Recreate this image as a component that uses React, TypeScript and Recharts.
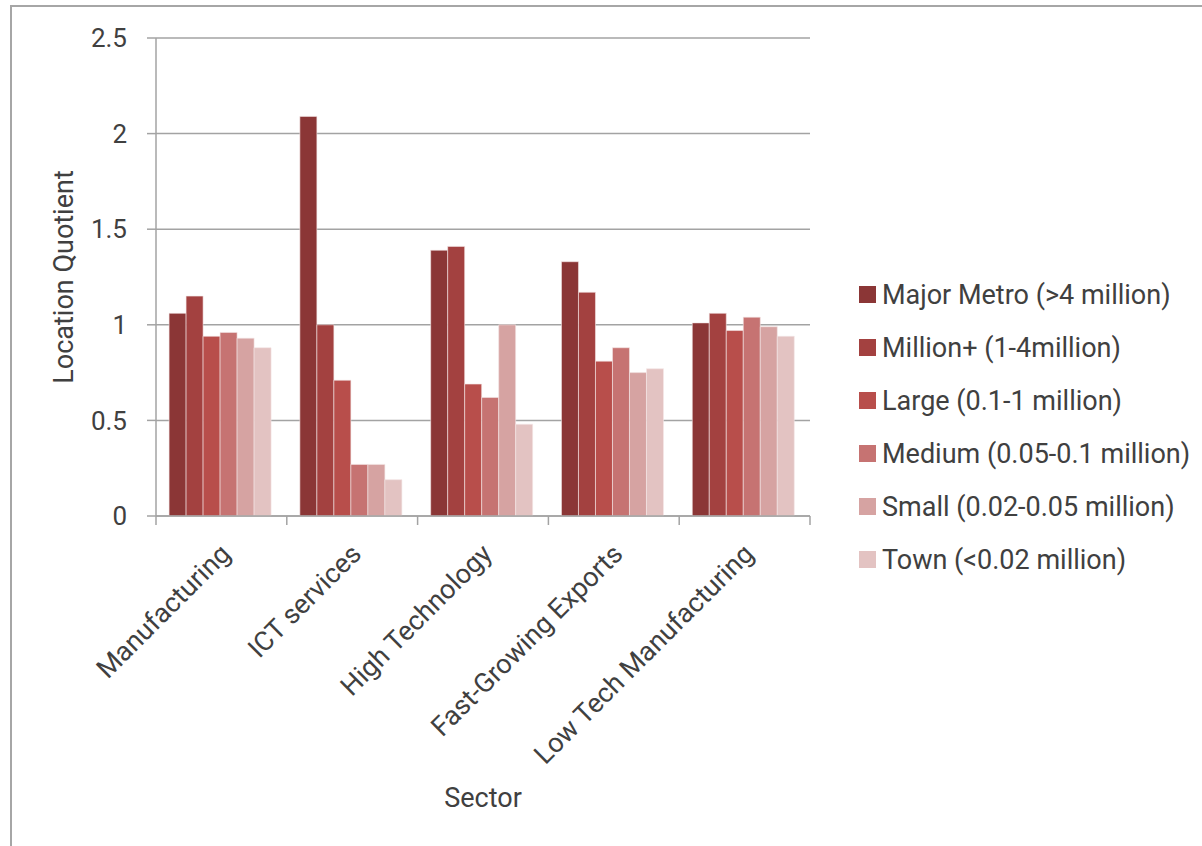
import React from 'react';
import { BarChart, Bar, XAxis, YAxis, CartesianGrid } from 'recharts';

const sectors = ['Manufacturing', 'ICT services', 'High Technology', 'Fast-Growing Exports', 'Low Tech Manufacturing'];
const majorMetro = [1.06, 2.09, 1.39, 1.33, 1.01];
const millionPlus = [1.15, 1.0, 1.41, 1.17, 1.06];
const large = [0.94, 0.71, 0.69, 0.81, 0.97];
const medium = [0.96, 0.27, 0.62, 0.88, 1.04];
const small = [0.93, 0.27, 1.0, 0.75, 0.99];
const town = [0.88, 0.19, 0.48, 0.77, 0.94];

const seriesNames = [
  'Major Metro (>4 million)',
  'Million+ (1-4million)',
  'Large (0.1-1 million)',
  'Medium (0.05-0.1 million)',
  'Small (0.02-0.05 million)',
  'Town (<0.02 million)',
];
const seriesKeys = ['majorMetro', 'millionPlus', 'large', 'medium', 'small', 'town'];
const seriesColors = ['#8B3636', '#A34140', '#B84E4B', '#C67372', '#D6A3A2', '#E3C3C2'];
const yTicks = [0, 0.5, 1, 1.5, 2, 2.5];

const data = sectors.map((sector, i) => ({
  sector,
  majorMetro: majorMetro[i],
  millionPlus: millionPlus[i],
  large: large[i],
  medium: medium[i],
  small: small[i],
  town: town[i],
}));

const FONT = 'Roboto, "Noto Sans", sans-serif';
const FS = 27;
const FS_Y = 26;
const TEXT = '#404040';
const GRID = '#a3a3a3';
const X_TICK_MARGIN = 26;
const X_LABEL_DX = -3;
const PLOT_W = 654;

function SectorTick(props: any) {
  const { x, y, payload, index, visibleTicksCount, width } = props;
  const w = typeof width === 'number' && width > 0 ? width : PLOT_W;
  const band = w / visibleTicksCount;
  const axisY = y - X_TICK_MARGIN;
  const tx = x + X_LABEL_DX;
  return (
    <g>
      <line x1={x - band / 2} x2={x - band / 2} y1={axisY} y2={axisY + 9} stroke={GRID} strokeWidth={1.5} />
      {index === visibleTicksCount - 1 && (
        <line x1={x + band / 2} x2={x + band / 2} y1={axisY} y2={axisY + 9} stroke={GRID} strokeWidth={1.5} />
      )}
      <text
        x={tx}
        y={y}
        dy="0.71em"
        transform={`rotate(-45 ${tx} ${y})`}
        textAnchor="end"
        fill={TEXT}
        fontSize={FS}
        fontFamily={FONT}
      >
        {payload.value}
      </text>
    </g>
  );
}

function HtmlLegend() {
  return (
    <div style={{ position: 'absolute', left: 859, top: 268, fontFamily: FONT, color: TEXT, fontSize: FS }}>
      {seriesNames.map((n, i) => (
        <div key={n} style={{ display: 'flex', alignItems: 'center', height: 53 }}>
          <div style={{ width: 17, height: 17, background: seriesColors[i], marginRight: 6, flex: 'none' }} />
          <span style={{ whiteSpace: 'nowrap' }}>{n}</span>
        </div>
      ))}
    </div>
  );
}

export default function App() {
  return (
    <div style={{ position: 'absolute', left: 0, top: 0, width: 1202, height: 846, overflow: 'hidden', background: '#fff' }}>
      <div
        style={{
          position: 'absolute',
          left: 10,
          top: 5,
          width: 1400,
          height: 1000,
          borderLeft: '2px solid #a6a6a6',
          borderTop: '2px solid #a6a6a6',
        }}
      />
      <div style={{ position: 'absolute', left: 0, top: 0 }}>
        <BarChart
          width={1202}
          height={846}
          data={data}
          margin={{ top: 38, right: 392, bottom: 0, left: 0 }}
          barCategoryGap="10%"
          barGap={0}
        >
          <CartesianGrid vertical={false} stroke={GRID} strokeWidth={1.5} />
          <XAxis
            dataKey="sector"
            height={330}
            interval={0}
            tickLine={false}
            tickSize={0}
            tickMargin={X_TICK_MARGIN}
            axisLine={{ stroke: GRID, strokeWidth: 1.5 }}
            tick={<SectorTick />}
            label={{ value: 'Sector', position: 'insideBottom', offset: 39, fill: TEXT, fontSize: FS, fontFamily: FONT }}
          />
          <YAxis
            width={156}
            domain={[0, 2.5]}
            ticks={yTicks}
            interval={0}
            tickSize={9}
            tickMargin={20}
            axisLine={{ stroke: GRID, strokeWidth: 1.5 }}
            tickLine={{ stroke: GRID, strokeWidth: 1.5 }}
            tick={{ fill: TEXT, fontSize: FS_Y, fontFamily: FONT }}
            label={{ value: 'Location Quotient', angle: -90, position: 'center', dx: -15, fill: TEXT, fontSize: FS, fontFamily: FONT }}
          />
          {seriesKeys.map((k, i) => (
            <Bar
              key={k}
              dataKey={k}
              name={seriesNames[i]}
              fill={seriesColors[i]}
              stroke="#f3e6e6"
              strokeWidth={0.6}
              isAnimationActive={false}
            />
          ))}
        </BarChart>
      </div>
      <HtmlLegend />
    </div>
  );
}
